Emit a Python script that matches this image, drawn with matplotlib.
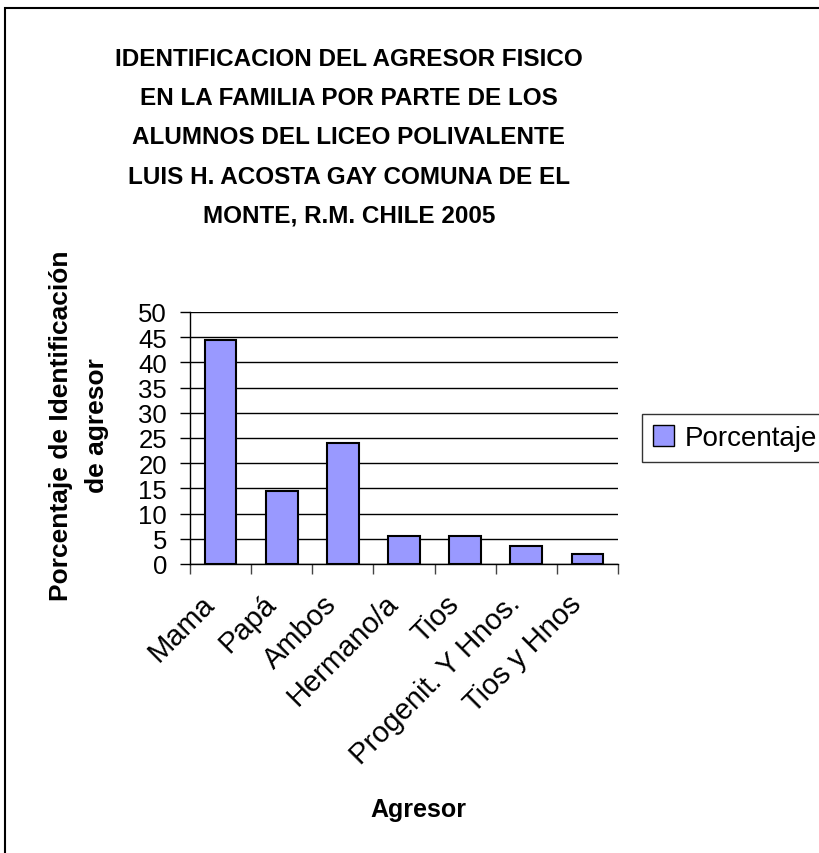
import matplotlib
matplotlib.use("Agg")
import matplotlib.pyplot as plt
from matplotlib.patches import Rectangle, Patch
from matplotlib.transforms import ScaledTranslation

plt.rcParams["font.family"] = ["Liberation Sans", "DejaVu Sans"]

categories = ["Mama", "Papá", "Ambos", "Hermano/a", "Tios", "Progenit. Y Hnos.", "Tios y Hnos"]
porcentaje = [44.4, 14.5, 24.1, 5.5, 5.5, 3.5, 1.9]
y_ticks = [0, 5, 10, 15, 20, 25, 30, 35, 40, 45, 50]

title = ("IDENTIFICACION DEL AGRESOR FISICO\nEN LA FAMILIA POR PARTE DE LOS\n"
         "ALUMNOS DEL LICEO POLIVALENTE\nLUIS H. ACOSTA GAY COMUNA DE EL\n"
         "MONTE, R.M. CHILE 2005")

W, H = 820, 854
fig = plt.figure(figsize=(W / 100, H / 100), dpi=100)

# outer chart frame (runs off the right and bottom edge)
fig.patches.append(Rectangle((5 / W, -0.01), 1.05, 1 - 9 / H + 0.01,
                             transform=fig.transFigure, fill=False,
                             edgecolor="black", linewidth=1.5))

ax = fig.add_axes([190 / W, 1 - 565 / H, 428 / W, 252 / H])
x = list(range(len(categories)))
ax.bar(x, porcentaje, width=0.52, color="#9999FF", edgecolor="black",
       linewidth=1.5, zorder=3)

ax.set_xlim(-0.5, len(categories) - 0.5)
ax.set_ylim(0, 50)
ax.set_yticks(y_ticks)
ax.set_yticklabels([str(v) for v in y_ticks], fontsize=18.5)
ax.yaxis.grid(True, color="black", linewidth=1)
ax.set_axisbelow(True)

ax.set_xticks(x)
ax.set_xticklabels(categories, fontsize=21, rotation=45, ha="right",
                   rotation_mode="anchor")
ax.set_xticks([i - 0.5 for i in range(len(categories) + 1)], minor=True)
ax.tick_params(axis="x", which="major", length=0, pad=18)
ax.tick_params(axis="x", which="minor", length=7.5, width=1, color="#444444")
ax.tick_params(axis="y", length=7.5, width=1, pad=9)

# nudge the rotated labels to the left, as in the original
shift = ScaledTranslation(-20 / 100, 0, fig.dpi_scale_trans)
for lbl in ax.get_xticklabels():
    lbl.set_transform(lbl.get_transform() + shift)

for s in ["top", "right"]:
    ax.spines[s].set_visible(False)
ax.spines["left"].set_linewidth(1)
ax.spines["bottom"].set_linewidth(1)

fig.text(349 / W, 1 - 138 / H, title, ha="center", va="center",
         fontsize=17.5, fontweight="bold", linespacing=1.9)

fig.text(79 / W, 1 - 426 / H, "Porcentaje de Identificación\nde agresor",
         rotation=90, ha="center", va="center", fontsize=19,
         fontweight="bold", linespacing=1.6)

fig.text(418 / W, 1 - 810 / H, "Agresor", ha="center", va="center",
         fontsize=18, fontweight="bold")

leg = fig.legend(handles=[Patch(facecolor="#9999FF", edgecolor="black",
                                linewidth=1, label="Porcentaje")],
                 loc="upper left", bbox_to_anchor=(642 / W, 1 - 415 / H),
                 fontsize=20, frameon=True, fancybox=False, borderpad=0.4,
                 handlelength=0.75, handleheight=0.75, handletextpad=0.4,
                 borderaxespad=0)
leg.get_frame().set_edgecolor("black")
leg.get_frame().set_linewidth(1)

fig.savefig("out.png", dpi=100)
